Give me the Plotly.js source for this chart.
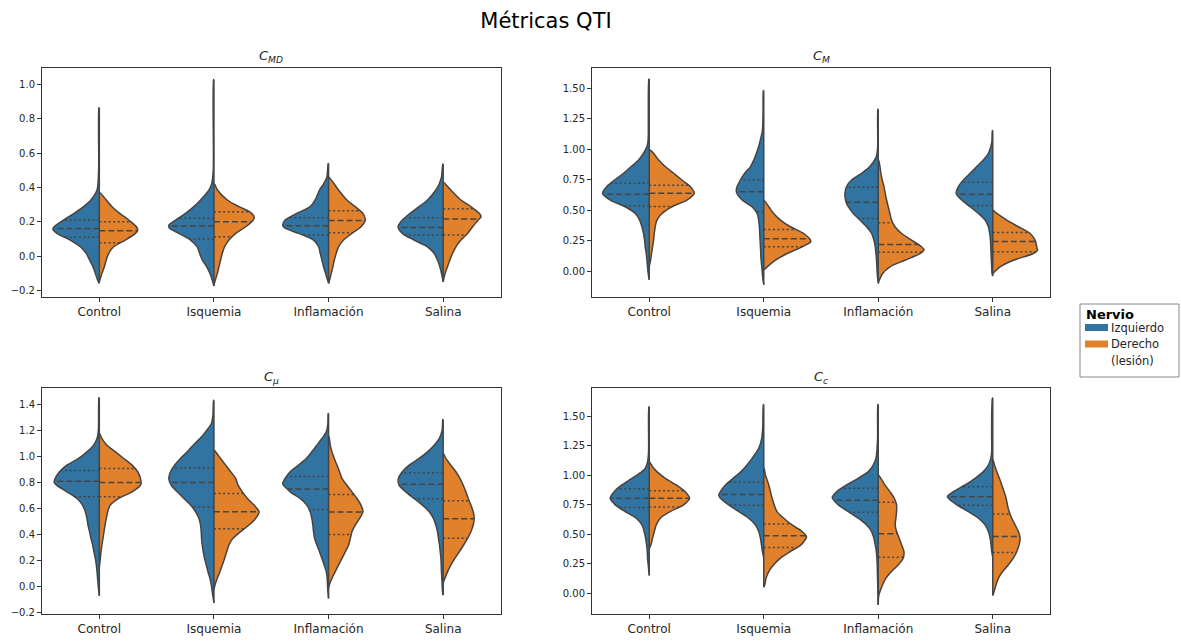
<!DOCTYPE html>
<html><head><meta charset="utf-8">
<script src="https://cdn.plot.ly/plotly-3.0.1.min.js"></script>
<style>html,body{margin:0;padding:0;background:#fff}</style>
</head><body><div id="chart" style="width:1181px;height:643px"></div>
<script>
// ---------- DATA ----------
const categories = ['Control','Isquemia','Inflamación','Salina'];
const seriesNames = ['Izquierdo','Derecho','(lesión)'];
const legendTitle = 'Nervio';
const figTitle = 'Métricas QTI';
const panelTitles = ['<i>C</i><sub><i>MD</i></sub>','<i>C</i><sub><i>M</i></sub>','<i>C</i><sub><i>μ</i></sub>','<i>C</i><sub><i>c</i></sub>'];

// y tick values / labels per panel
const cmd_tickvals = [-0.2,0,0.2,0.4,0.6,0.8,1.0];
const cmd_ticktext = ['−0.2','0.0','0.2','0.4','0.6','0.8','1.0'];
const cm_tickvals = [0,0.25,0.5,0.75,1,1.25,1.5];
const cm_ticktext = ['0.00','0.25','0.50','0.75','1.00','1.25','1.50'];
const cmu_tickvals = [-0.2,0,0.2,0.4,0.6,0.8,1.0,1.2,1.4];
const cmu_ticktext = ['−0.2','0.0','0.2','0.4','0.6','0.8','1.0','1.2','1.4'];
const cc_tickvals = [0,0.25,0.5,0.75,1,1.25,1.5];
const cc_ticktext = ['0.00','0.25','0.50','0.75','1.00','1.25','1.50'];

// density profiles of each half violin: [value, half-width (category units)]
// ---- C_MD ----
const cmd_control_izq = [[0.865,0.003],[0.50,0.006],[0.385,0.02],[0.327,0.073],[0.288,0.137],[0.249,0.219],[0.210,0.312],[0.171,0.394],[0.155,0.405],[0.132,0.37],[0.093,0.254],[0.054,0.166],[0.016,0.114],[-0.023,0.085],[-0.062,0.055],[-0.101,0.035],[-0.14,0.015],[-0.16,0]];
const cmd_control_der = [[0.37,0.005],[0.327,0.061],[0.288,0.111],[0.249,0.178],[0.210,0.257],[0.171,0.324],[0.150,0.335],[0.132,0.315],[0.093,0.227],[0.054,0.125],[0.016,0.082],[-0.023,0.061],[-0.062,0.044],[-0.101,0.023],[-0.15,0]];
const cmd_isq_izq = [[1.03,0.003],[0.50,0.006],[0.42,0.02],[0.385,0.044],[0.327,0.117],[0.288,0.175],[0.249,0.248],[0.210,0.335],[0.18,0.394],[0.165,0.39],[0.132,0.306],[0.093,0.204],[0.054,0.146],[0.016,0.125],[-0.023,0.102],[-0.062,0.064],[-0.101,0.035],[-0.14,0.015],[-0.175,0]];
const cmd_isq_der = [[0.42,0.005],[0.385,0.03],[0.327,0.117],[0.288,0.219],[0.26,0.306],[0.23,0.35],[0.21,0.343],[0.171,0.277],[0.132,0.19],[0.093,0.131],[0.054,0.093],[0.016,0.073],[-0.023,0.058],[-0.062,0.044],[-0.101,0.03],[-0.14,0.012],[-0.17,0]];
const cmd_inf_izq = [[0.54,0.003],[0.46,0.015],[0.42,0.044],[0.385,0.079],[0.327,0.117],[0.288,0.16],[0.249,0.277],[0.21,0.379],[0.18,0.40],[0.165,0.385],[0.132,0.262],[0.093,0.131],[0.054,0.087],[0.016,0.073],[-0.023,0.058],[-0.062,0.044],[-0.101,0.026],[-0.14,0.009],[-0.155,0]];
const cmd_inf_der = [[0.459,0.005],[0.42,0.05],[0.385,0.087],[0.327,0.16],[0.288,0.233],[0.249,0.30],[0.21,0.32],[0.171,0.283],[0.132,0.204],[0.093,0.131],[0.054,0.087],[0.016,0.067],[-0.023,0.05],[-0.062,0.038],[-0.101,0.023],[-0.14,0.009],[-0.16,0]];
const cmd_sal_izq = [[0.537,0.003],[0.46,0.015],[0.42,0.035],[0.385,0.064],[0.327,0.137],[0.288,0.21],[0.249,0.289],[0.21,0.356],[0.171,0.394],[0.132,0.356],[0.093,0.254],[0.054,0.137],[0.016,0.079],[-0.023,0.05],[-0.062,0.029],[-0.101,0.015],[-0.15,0]];
const cmd_sal_der = [[0.43,0.005],[0.385,0.067],[0.327,0.155],[0.288,0.242],[0.249,0.315],[0.23,0.33],[0.21,0.306],[0.171,0.257],[0.132,0.213],[0.093,0.155],[0.054,0.111],[0.016,0.082],[-0.023,0.058],[-0.062,0.038],[-0.101,0.017],[-0.15,0]];
// quartiles [q1, median, q3] per category
const cmd_q_izq = [[0.109,0.161,0.210],[0.099,0.175,0.22],[0.123,0.177,0.224],[0.123,0.167,0.224]];
const cmd_q_der = [[0.077,0.148,0.200],[0.113,0.2,0.259],[0.136,0.208,0.264],[0.123,0.216,0.276]];

// ---- C_M ----
const cm_control_izq = [[1.574,0.003],[1.25,0.008],[1.07,0.01],[1.021,0.02],[0.966,0.05],[0.911,0.093],[0.857,0.157],[0.802,0.224],[0.747,0.303],[0.693,0.37],[0.638,0.408],[0.583,0.34],[0.528,0.21],[0.473,0.122],[0.419,0.084],[0.364,0.064],[0.309,0.05],[0.255,0.041],[0.2,0.035],[0.145,0.026],[0.09,0.02],[0.036,0.015],[-0.019,0.009],[-0.07,0]];
const cm_control_der = [[0.993,0.005],[0.966,0.038],[0.911,0.082],[0.857,0.14],[0.802,0.213],[0.747,0.285],[0.693,0.358],[0.638,0.393],[0.583,0.329],[0.528,0.198],[0.473,0.111],[0.419,0.067],[0.364,0.052],[0.309,0.044],[0.255,0.038],[0.2,0.029],[0.145,0.02],[0.09,0.012],[0.04,0]];
const cm_isq_izq = [[1.48,0.003],[1.30,0.006],[1.15,0.012],[1.075,0.03],[1.021,0.044],[0.966,0.064],[0.911,0.087],[0.857,0.116],[0.802,0.166],[0.747,0.204],[0.693,0.233],[0.65,0.239],[0.583,0.189],[0.528,0.102],[0.473,0.058],[0.419,0.044],[0.364,0.038],[0.309,0.035],[0.255,0.032],[0.2,0.029],[0.145,0.026],[0.09,0.023],[0.036,0.017],[-0.019,0.012],[-0.074,0.006],[-0.11,0]];
const cm_isq_der = [[0.58,0.003],[0.528,0.044],[0.473,0.087],[0.419,0.146],[0.364,0.233],[0.309,0.35],[0.255,0.408],[0.24,0.41],[0.2,0.335],[0.145,0.204],[0.09,0.102],[0.036,0.03],[0.01,0]];
const cm_inf_izq = [[1.327,0.003],[1.0,0.006],[0.93,0.02],[0.857,0.073],[0.802,0.146],[0.747,0.233],[0.693,0.277],[0.638,0.291],[0.583,0.286],[0.528,0.262],[0.473,0.218],[0.419,0.16],[0.364,0.102],[0.309,0.058],[0.255,0.038],[0.2,0.026],[0.145,0.02],[0.09,0.015],[0.036,0.012],[-0.019,0.009],[-0.074,0.003],[-0.09,0]];
const cm_inf_der = [[0.911,0.003],[0.857,0.015],[0.802,0.023],[0.747,0.035],[0.693,0.05],[0.638,0.061],[0.583,0.073],[0.528,0.087],[0.473,0.102],[0.419,0.116],[0.364,0.146],[0.309,0.204],[0.255,0.291],[0.2,0.378],[0.175,0.399],[0.145,0.364],[0.09,0.233],[0.036,0.102],[-0.019,0.038],[-0.074,0.009],[-0.1,0]];
const cm_sal_izq = [[1.152,0.003],[1.05,0.009],[0.966,0.038],[0.911,0.082],[0.857,0.14],[0.802,0.198],[0.747,0.256],[0.693,0.3],[0.638,0.32],[0.583,0.271],[0.528,0.198],[0.473,0.125],[0.419,0.067],[0.364,0.038],[0.309,0.026],[0.255,0.02],[0.2,0.017],[0.145,0.015],[0.09,0.012],[0.036,0.009],[-0.019,0.006],[-0.04,0]];
const cm_sal_der = [[0.50,0.003],[0.473,0.035],[0.419,0.122],[0.364,0.224],[0.309,0.326],[0.255,0.37],[0.2,0.384],[0.17,0.39],[0.145,0.355],[0.09,0.18],[0.036,0.064],[0.0,0.02],[-0.02,0]];
const cm_q_izq = [[0.536,0.63,0.72],[0.487,0.651,0.75],[0.432,0.564,0.687],[0.539,0.63,0.728]];
const cm_q_der = [[0.531,0.639,0.703],[0.2,0.265,0.342],[0.156,0.219,0.397],[0.159,0.244,0.317]];

// ---- C_mu ----
const cmu_control_izq = [[1.451,0.003],[1.2,0.008],[1.137,0.02],[1.086,0.05],[1.035,0.108],[0.984,0.181],[0.933,0.283],[0.882,0.347],[0.831,0.385],[0.80,0.394],[0.779,0.373],[0.728,0.283],[0.677,0.195],[0.626,0.146],[0.575,0.122],[0.524,0.108],[0.473,0.099],[0.422,0.085],[0.371,0.073],[0.32,0.058],[0.268,0.047],[0.217,0.035],[0.166,0.026],[0.115,0.02],[0.064,0.015],[0.0,0.009],[-0.07,0]];
const cmu_control_der = [[1.175,0.003],[1.137,0.023],[1.086,0.067],[1.035,0.14],[0.984,0.213],[0.933,0.286],[0.882,0.335],[0.831,0.359],[0.79,0.364],[0.779,0.359],[0.728,0.286],[0.677,0.169],[0.626,0.096],[0.575,0.073],[0.524,0.061],[0.473,0.05],[0.422,0.041],[0.371,0.032],[0.32,0.023],[0.268,0.015],[0.217,0.009],[0.15,0]];
const cmu_isq_izq = [[1.431,0.003],[1.316,0.009],[1.25,0.023],[1.188,0.073],[1.137,0.122],[1.086,0.181],[1.035,0.233],[0.984,0.292],[0.933,0.344],[0.882,0.379],[0.831,0.394],[0.779,0.373],[0.728,0.321],[0.677,0.262],[0.626,0.204],[0.575,0.16],[0.524,0.131],[0.473,0.117],[0.422,0.111],[0.371,0.108],[0.32,0.102],[0.268,0.093],[0.217,0.082],[0.166,0.067],[0.115,0.052],[0.064,0.035],[0.013,0.023],[-0.038,0.015],[-0.089,0.006],[-0.125,0]];
const cmu_isq_der = [[1.047,0.003],[1.0,0.044],[0.933,0.102],[0.882,0.146],[0.831,0.19],[0.779,0.21],[0.728,0.248],[0.677,0.292],[0.626,0.35],[0.575,0.394],[0.524,0.364],[0.473,0.306],[0.422,0.233],[0.371,0.166],[0.32,0.131],[0.268,0.111],[0.217,0.093],[0.166,0.073],[0.115,0.052],[0.064,0.029],[0.013,0.009],[-0.02,0]];
const cmu_inf_izq = [[1.329,0.003],[1.25,0.006],[1.188,0.02],[1.137,0.058],[1.086,0.102],[1.035,0.146],[0.984,0.195],[0.933,0.262],[0.882,0.335],[0.831,0.379],[0.79,0.40],[0.728,0.335],[0.677,0.248],[0.626,0.19],[0.575,0.16],[0.524,0.146],[0.473,0.137],[0.422,0.131],[0.371,0.122],[0.32,0.102],[0.268,0.079],[0.217,0.058],[0.166,0.038],[0.115,0.02],[0.064,0.012],[0.013,0.009],[-0.038,0.006],[-0.09,0]];
const cmu_inf_der = [[1.152,0.003],[1.086,0.015],[1.035,0.029],[0.984,0.05],[0.933,0.073],[0.882,0.096],[0.831,0.117],[0.779,0.16],[0.728,0.204],[0.677,0.248],[0.626,0.283],[0.575,0.3],[0.524,0.271],[0.473,0.233],[0.422,0.204],[0.371,0.19],[0.32,0.175],[0.268,0.146],[0.217,0.117],[0.166,0.087],[0.115,0.058],[0.064,0.029],[0.02,0.009],[-0.01,0]];
const cmu_sal_izq = [[1.283,0.003],[1.2,0.009],[1.137,0.035],[1.086,0.079],[1.035,0.137],[0.984,0.21],[0.933,0.297],[0.882,0.356],[0.831,0.391],[0.779,0.385],[0.728,0.327],[0.677,0.254],[0.626,0.181],[0.575,0.122],[0.524,0.085],[0.473,0.064],[0.422,0.05],[0.371,0.041],[0.32,0.032],[0.268,0.026],[0.217,0.02],[0.166,0.017],[0.115,0.015],[0.064,0.012],[0.013,0.009],[-0.038,0.006],[-0.065,0]];
const cmu_sal_der = [[1.022,0.003],[0.984,0.023],[0.933,0.067],[0.882,0.111],[0.831,0.146],[0.779,0.175],[0.728,0.198],[0.677,0.219],[0.626,0.242],[0.575,0.262],[0.524,0.271],[0.473,0.262],[0.422,0.242],[0.371,0.213],[0.32,0.178],[0.268,0.14],[0.217,0.102],[0.166,0.067],[0.115,0.038],[0.064,0.015],[0.03,0]];
const cmu_q_izq = [[0.69,0.81,0.892],[0.611,0.8,0.912],[0.593,0.749,0.846],[0.675,0.787,0.874]];
const cmu_q_der = [[0.69,0.8,0.907],[0.445,0.575,0.716],[0.401,0.573,0.708],[0.371,0.521,0.659]];

// ---- C_c ----
const cc_control_izq = [[1.579,0.003],[1.2,0.006],[1.11,0.015],[1.058,0.035],[1.03,0.064],[0.973,0.151],[0.917,0.239],[0.86,0.306],[0.804,0.341],[0.748,0.297],[0.691,0.21],[0.635,0.114],[0.578,0.064],[0.522,0.044],[0.466,0.032],[0.409,0.023],[0.353,0.017],[0.296,0.015],[0.24,0.009],[0.15,0]];
const cc_control_der = [[1.113,0.003],[1.058,0.038],[1.03,0.067],[0.973,0.14],[0.917,0.236],[0.86,0.314],[0.804,0.352],[0.748,0.3],[0.691,0.183],[0.635,0.096],[0.578,0.061],[0.522,0.044],[0.466,0.029],[0.409,0.015],[0.38,0]];
const cc_isq_izq = [[1.599,0.003],[1.4,0.009],[1.3,0.02],[1.227,0.044],[1.142,0.102],[1.086,0.146],[1.03,0.198],[0.973,0.268],[0.917,0.335],[0.86,0.378],[0.83,0.393],[0.804,0.378],[0.748,0.306],[0.691,0.218],[0.635,0.131],[0.578,0.073],[0.522,0.044],[0.466,0.029],[0.409,0.02],[0.353,0.012],[0.3,0]];
const cc_isq_der = [[1.058,0.003],[1.0,0.015],[0.917,0.044],[0.804,0.073],[0.691,0.116],[0.635,0.175],[0.578,0.247],[0.522,0.335],[0.48,0.373],[0.466,0.37],[0.409,0.326],[0.353,0.233],[0.296,0.146],[0.24,0.087],[0.183,0.044],[0.127,0.02],[0.07,0.009],[0.05,0]];
const cc_inf_izq = [[1.599,0.003],[1.3,0.006],[1.142,0.02],[1.086,0.044],[1.03,0.087],[0.973,0.175],[0.917,0.277],[0.86,0.364],[0.81,0.402],[0.748,0.349],[0.691,0.262],[0.635,0.175],[0.578,0.102],[0.522,0.058],[0.466,0.038],[0.409,0.026],[0.353,0.017],[0.296,0.012],[0.24,0.009],[0.127,0.006],[0.014,0.003],[-0.09,0]];
const cc_inf_der = [[1.0,0.003],[0.973,0.023],[0.917,0.058],[0.86,0.102],[0.804,0.14],[0.748,0.16],[0.691,0.16],[0.635,0.154],[0.578,0.148],[0.522,0.16],[0.466,0.183],[0.409,0.204],[0.353,0.224],[0.296,0.218],[0.24,0.175],[0.183,0.116],[0.127,0.067],[0.071,0.038],[0.014,0.015],[-0.03,0.003],[-0.1,0]];
const cc_sal_izq = [[1.655,0.003],[1.35,0.01],[1.2,0.009],[1.142,0.017],[1.086,0.038],[1.03,0.082],[0.973,0.154],[0.917,0.242],[0.86,0.344],[0.82,0.396],[0.804,0.387],[0.748,0.314],[0.691,0.213],[0.635,0.125],[0.578,0.067],[0.522,0.038],[0.466,0.023],[0.409,0.015],[0.353,0.009],[0.3,0]];
const cc_sal_der = [[1.128,0.003],[1.086,0.015],[1.03,0.035],[0.973,0.058],[0.917,0.079],[0.86,0.099],[0.804,0.117],[0.748,0.128],[0.691,0.143],[0.635,0.166],[0.578,0.195],[0.522,0.224],[0.466,0.239],[0.409,0.23],[0.353,0.21],[0.296,0.18],[0.24,0.137],[0.183,0.087],[0.127,0.05],[0.071,0.029],[0.014,0.012],[-0.02,0]];
const cc_q_izq = [[0.725,0.804,0.885],[0.744,0.837,0.939],[0.685,0.787,0.888],[0.744,0.817,0.902]];
const cc_q_der = [[0.73,0.804,0.868],[0.386,0.487,0.586],[0.305,0.504,0.77],[0.344,0.479,0.671]];

// ---------- STYLE / LAYOUT ----------
const W = 1181, H = 643;
const BLUE = '#3274a1', ORANGE = '#e1812c', GRAY = '#444444';
const FONT = 'DejaVu Sans';
const px = v => v / W;            // pixel -> paper x
const py = v => 1 - v / H;        // pixel -> paper y

const panels = [
  {xa:'x',  ya:'y',  xd:[42,500.5],  yd:[68,297],
   izq:[cmd_control_izq,cmd_isq_izq,cmd_inf_izq,cmd_sal_izq], der:[cmd_control_der,cmd_isq_der,cmd_inf_der,cmd_sal_der],
   qi:cmd_q_izq, qd:cmd_q_der, range:[-0.239,1.097], tv:cmd_tickvals, tt:cmd_ticktext, title:panelTitles[0]},
  {xa:'x2', ya:'y2', xd:[592,1050],  yd:[68,297],
   izq:[cm_control_izq,cm_isq_izq,cm_inf_izq,cm_sal_izq], der:[cm_control_der,cm_isq_der,cm_inf_der,cm_sal_der],
   qi:cm_q_izq, qd:cm_q_der, range:[-0.211,1.664], tv:cm_tickvals, tt:cm_ticktext, title:panelTitles[1]},
  {xa:'x3', ya:'y3', xd:[42,500.5],  yd:[388,613.5],
   izq:[cmu_control_izq,cmu_isq_izq,cmu_inf_izq,cmu_sal_izq], der:[cmu_control_der,cmu_isq_der,cmu_inf_der,cmu_sal_der],
   qi:cmu_q_izq, qd:cmu_q_der, range:[-0.206,1.525], tv:cmu_tickvals, tt:cmu_ticktext, title:panelTitles[2]},
  {xa:'x4', ya:'y4', xd:[592,1050],  yd:[388,613.5],
   izq:[cc_control_izq,cc_isq_izq,cc_inf_izq,cc_sal_izq], der:[cc_control_der,cc_isq_der,cc_inf_der,cc_sal_der],
   qi:cc_q_izq, qd:cc_q_der, range:[-0.173,1.739], tv:cc_tickvals, tt:cc_ticktext, title:panelTitles[3]}
];

function widthAt(prof, v){
  for (let k = 0; k < prof.length - 1; k++){
    const [y0,w0] = prof[k], [y1,w1] = prof[k+1];
    if (v <= y0 && v >= y1){ const t = (y0 - v) / (y0 - y1); return w0 + t * (w1 - w0); }
  }
  return 0;
}

const traces = [];
const layout = {
  width: W, height: H, margin:{l:0,r:0,t:0,b:0},
  paper_bgcolor:'#fff', plot_bgcolor:'#fff', showlegend:false,
  font:{family:FONT, color:'#262626'},
  title:{text:figTitle, x:px(546), xref:'paper', xanchor:'center', y:1-21/H, yref:'container', yanchor:'middle',
         font:{family:FONT, size:21, color:'#000'}},
  annotations:[], shapes:[]
};

panels.forEach((p, pi) => {
  const sfx = pi === 0 ? '' : String(pi + 1);
  layout['xaxis' + sfx] = {
    domain:[px(p.xd[0]), px(p.xd[1])], anchor:p.ya, range:[-0.5,3.5],
    tickvals:[0,1,2,3], ticktext:categories, ticks:'outside', ticklen:4, tickwidth:1, tickcolor:'#333',
    showline:true, mirror:true, linecolor:'#333', linewidth:1, showgrid:false, zeroline:false,
    tickfont:{family:FONT, size:12, color:'#262626'}, fixedrange:true
  };
  layout['yaxis' + sfx] = {
    domain:[py(p.yd[1]), py(p.yd[0])], anchor:p.xa, range:p.range,
    tickvals:p.tv, ticktext:p.tt, ticks:'outside', ticklen:4, tickwidth:1, tickcolor:'#333',
    showline:true, mirror:true, linecolor:'#333', linewidth:1, showgrid:false, zeroline:false,
    tickfont:{family:FONT, size:10, color:'#262626'}, fixedrange:true
  };
  layout.annotations.push({
    text:p.title, xref:'paper', yref:'paper', x:px((p.xd[0]+p.xd[1])/2), y:py(p.yd[0]-11),
    xanchor:'center', yanchor:'middle', showarrow:false, font:{family:FONT, size:13, color:'#262626'}
  });

  categories.forEach((c, ci) => {
    const halves = [[p.izq[ci], -1, BLUE, p.qi[ci]], [p.der[ci], 1, ORANGE, p.qd[ci]]];
    halves.forEach(([prof, sgn, col, q]) => {
      const xs = [ci], ys = [prof[0][0]];
      prof.forEach(([v, w]) => { xs.push(ci + sgn * w); ys.push(v); });
      xs.push(ci); ys.push(prof[prof.length - 1][0]);
      traces.push({type:'scatter', mode:'lines', x:xs, y:ys, xaxis:p.xa, yaxis:p.ya,
        fill:'toself', fillcolor:col, line:{color:GRAY, width:1.5, shape:'spline', smoothing:0.8},
        hoverinfo:'skip', showlegend:false});
    });
    halves.forEach(([prof, sgn, col, q]) => {
      q.forEach((qv, k) => {
        const w = widthAt(prof, qv);
        traces.push({type:'scatter', mode:'lines', x:[ci, ci + sgn * w], y:[qv, qv], xaxis:p.xa, yaxis:p.ya,
          line:{color:GRAY, width:1.5, dash: k === 1 ? '6px,3px' : '2px,2.6px'}, hoverinfo:'skip', showlegend:false});
      });
    });
    const top = Math.max(p.izq[ci][0][0], p.der[ci][0][0]);
    const bot = Math.min(p.izq[ci][p.izq[ci].length-1][0], p.der[ci][p.der[ci].length-1][0]);
    traces.push({type:'scatter', mode:'lines', x:[ci, ci], y:[bot, top], xaxis:p.xa, yaxis:p.ya,
      line:{color:GRAY, width:1.5}, hoverinfo:'skip', showlegend:false});
  });
});

// legend (drawn manually)
layout.shapes.push({type:'rect', xref:'paper', yref:'paper', x0:px(1080), x1:px(1179), y0:py(377), y1:py(304),
  line:{color:'#888', width:1}, fillcolor:'#fff'});
layout.shapes.push({type:'rect', xref:'paper', yref:'paper', x0:px(1085), x1:px(1108), y0:py(331), y1:py(324),
  line:{width:0}, fillcolor:BLUE});
layout.shapes.push({type:'rect', xref:'paper', yref:'paper', x0:px(1085), x1:px(1108), y0:py(347.5), y1:py(340.5),
  line:{width:0}, fillcolor:ORANGE});
layout.annotations.push({text:'<b>' + legendTitle + '</b>', xref:'paper', yref:'paper', x:px(1084), y:py(314),
  xanchor:'left', yanchor:'middle', showarrow:false, font:{family:FONT, size:13, color:'#000'}});
layout.annotations.push({text:seriesNames[0], xref:'paper', yref:'paper', x:px(1109), y:py(327.5),
  xanchor:'left', yanchor:'middle', showarrow:false, font:{family:FONT, size:11.5, color:'#262626'}});
layout.annotations.push({text:seriesNames[1], xref:'paper', yref:'paper', x:px(1109), y:py(344),
  xanchor:'left', yanchor:'middle', showarrow:false, font:{family:FONT, size:11.5, color:'#262626'}});
layout.annotations.push({text:seriesNames[2], xref:'paper', yref:'paper', x:px(1109), y:py(361),
  xanchor:'left', yanchor:'middle', showarrow:false, font:{family:FONT, size:11.5, color:'#262626'}});

Plotly.newPlot('chart', traces, layout, {staticPlot:true, displayModeBar:false});
</script>
</body></html>
